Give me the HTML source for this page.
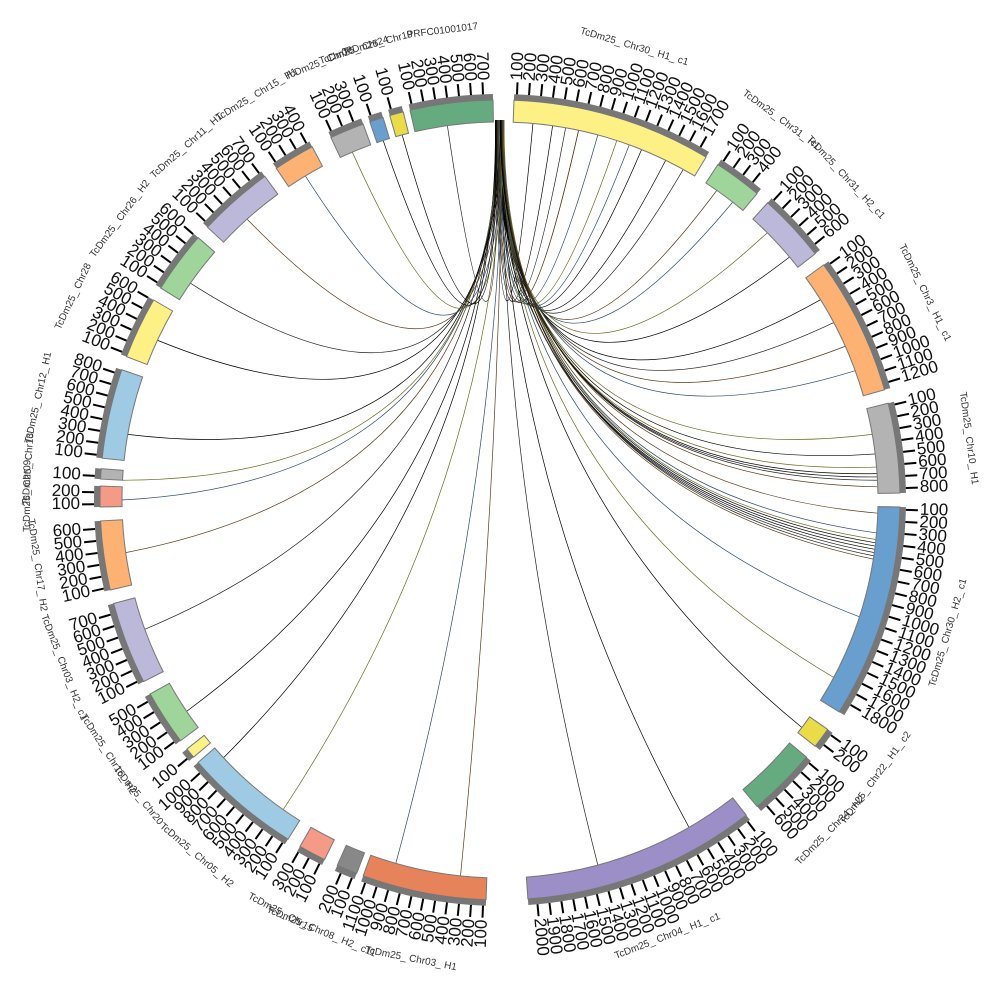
<!DOCTYPE html>
<html><head><meta charset="utf-8"><style>
html,body{margin:0;padding:0;background:#fff;}
svg{display:block;font-family:"Liberation Sans",sans-serif;}
</style></head><body>
<svg id="s" width="1000" height="1000" viewBox="0 0 1000 1000" xmlns="http://www.w3.org/2000/svg"></svg>
<script>
const S=document.getElementById('s');const cx=500,cy=500;
const segs=[
[347,359,'#66ab80','PRFC01001017'],
[2,31,'#fdf084','TcDm25_ Chr30_ H1_ c1'],
[33,40,'#9fd49a','TcDm25_ Chr31_ H1'],
[42,52,'#bbb8da','TcDm25_ Chr31_ H2_c1'],
[54,74,'#fdb274','TcDm25_ Chr3_ H1_ c1'],
[76,89,'#b3b3b3','TcDm25_ Chr10_ H1'],
[91,122,'#689fcf','TcDm25_ Chr30_ H2_ c1'],
[125,128,'#e9dc48','TcDm25_ Chr22_ H1_ c2'],
[130,140,'#66ab80','TcDm25_ Chr34_ H2'],
[142,176,'#9c8ec6','TcDm25_ Chr04_ H1_ c1'],
[182,200,'#e6835a','TcDm25_ Chr03_ H1'],
[201,204,'#888888','TcDm25_ Chr08_ H2_ c11'],
[206,210,'#f59a86','TcDm25_ Chr15'],
[212,229,'#9ecae4','TcDm25_ Chr05_ H2'],
[230,231.5,'#fdf084','TcDm25_ Chr20'],
[233,241,'#9fd49a','TcDm25_ Chr16_ H2'],
[243,255,'#bbb8da','TcDm25_ Chr03_ H2_ c1'],
[257,267,'#fdb274','TcDm25_ Chr17_ H2'],
[269,272,'#f59a86','TcDm25_ Chr09'],
[273,274.5,'#b3b3b3','TcDm25_ Chr13'],
[276,289,'#9ecae4','TcDm25_ Chr12_ H1'],
[291,300,'#fdf084','TcDm25_ Chr28'],
[302,311,'#9fd49a','TcDm25_ Chr26_ H2'],
[313,324,'#bbb8da','TcDm25_ Chr11_ H1'],
[326,332,'#fdb274','TcDm25_ Chr15_ H1'],
[335,340,'#b3b3b3','TcDm25_ Chr02'],
[341,343,'#689fcf','TcDm25_ Chr24'],
[344,346,'#e9dc48','TcDm25_ Chr19']];
function P(a,r){const t=a*Math.PI/180;return [cx+r*Math.sin(t),cy-r*Math.cos(t)];}
function arc(a1,a2,r1,r2){const p1=P(a1,r2),p2=P(a2,r2),p3=P(a2,r1),p4=P(a1,r1);const l=(a2-a1)>180?1:0;
return `M${p1[0]},${p1[1]}A${r2},${r2} 0 ${l} 1 ${p2[0]},${p2[1]}L${p3[0]},${p3[1]}A${r1},${r1} 0 ${l} 0 ${p4[0]},${p4[1]}Z`;}
let h='';
const targets=[5,8,10,12,15,18,22,26,29,35,38,45,50,58,62,66,70,80,83,86,87,88,95,96,97,97.5,98,99,108,118,127,150,165,186,196,215,227,236,250,262,270,273,280,295,305,318,329,337,342,345,352,12,20,85,86.5,96.5,98.5,92];
const cols=['#000','#000','#222','#5a3a1a','#2a4a6a','#6a6a20'];
targets.forEach((t,i)=>{const s=359.3+(i%12)*0.12;const a=P(s,380),b=P(t,378);
h+=`<path d="M${a[0]},${a[1]}Q${cx},${cy-20} ${b[0]},${b[1]}" fill="none" stroke="${cols[i%6]}" stroke-width="0.7"/>`;});
segs.forEach(g=>{const[a1,a2,c,n]=g;
h+=`<path d="${arc(a1,a2,378,400)}" fill="${c}" stroke="#777" stroke-width="1"/>`;
h+=`<path d="${arc(a1,a2,400,406)}" fill="#777"/>`;
let k=1;for(let a=a1+0.4;a<=a2;a+=1.7,k++){const p=P(a,406),q=P(a,418);
h+=`<line x1="${p[0]}" y1="${p[1]}" x2="${q[0]}" y2="${q[1]}" stroke="#000" stroke-width="2"/>`;
const lp=P(a,420);let rot=a-90;let anchor='start';if(a>180){rot=a+90;anchor='end';}
h+=`<text x="${lp[0]}" y="${lp[1]}" font-size="17" text-anchor="${anchor}" dominant-baseline="middle" transform="rotate(${rot} ${lp[0]} ${lp[1]})" fill="#111">${k*100}</text>`;}
const m=(a1+a2)/2,lp=P(m,470);
let r2=(m>90&&m<270)?m-180:m;
h+=`<text x="${lp[0]}" y="${lp[1]}" font-size="10" text-anchor="middle" fill="#333" transform="rotate(${r2} ${lp[0]} ${lp[1]})">${n}</text>`;});
S.innerHTML=h;
</script>
</body></html>
